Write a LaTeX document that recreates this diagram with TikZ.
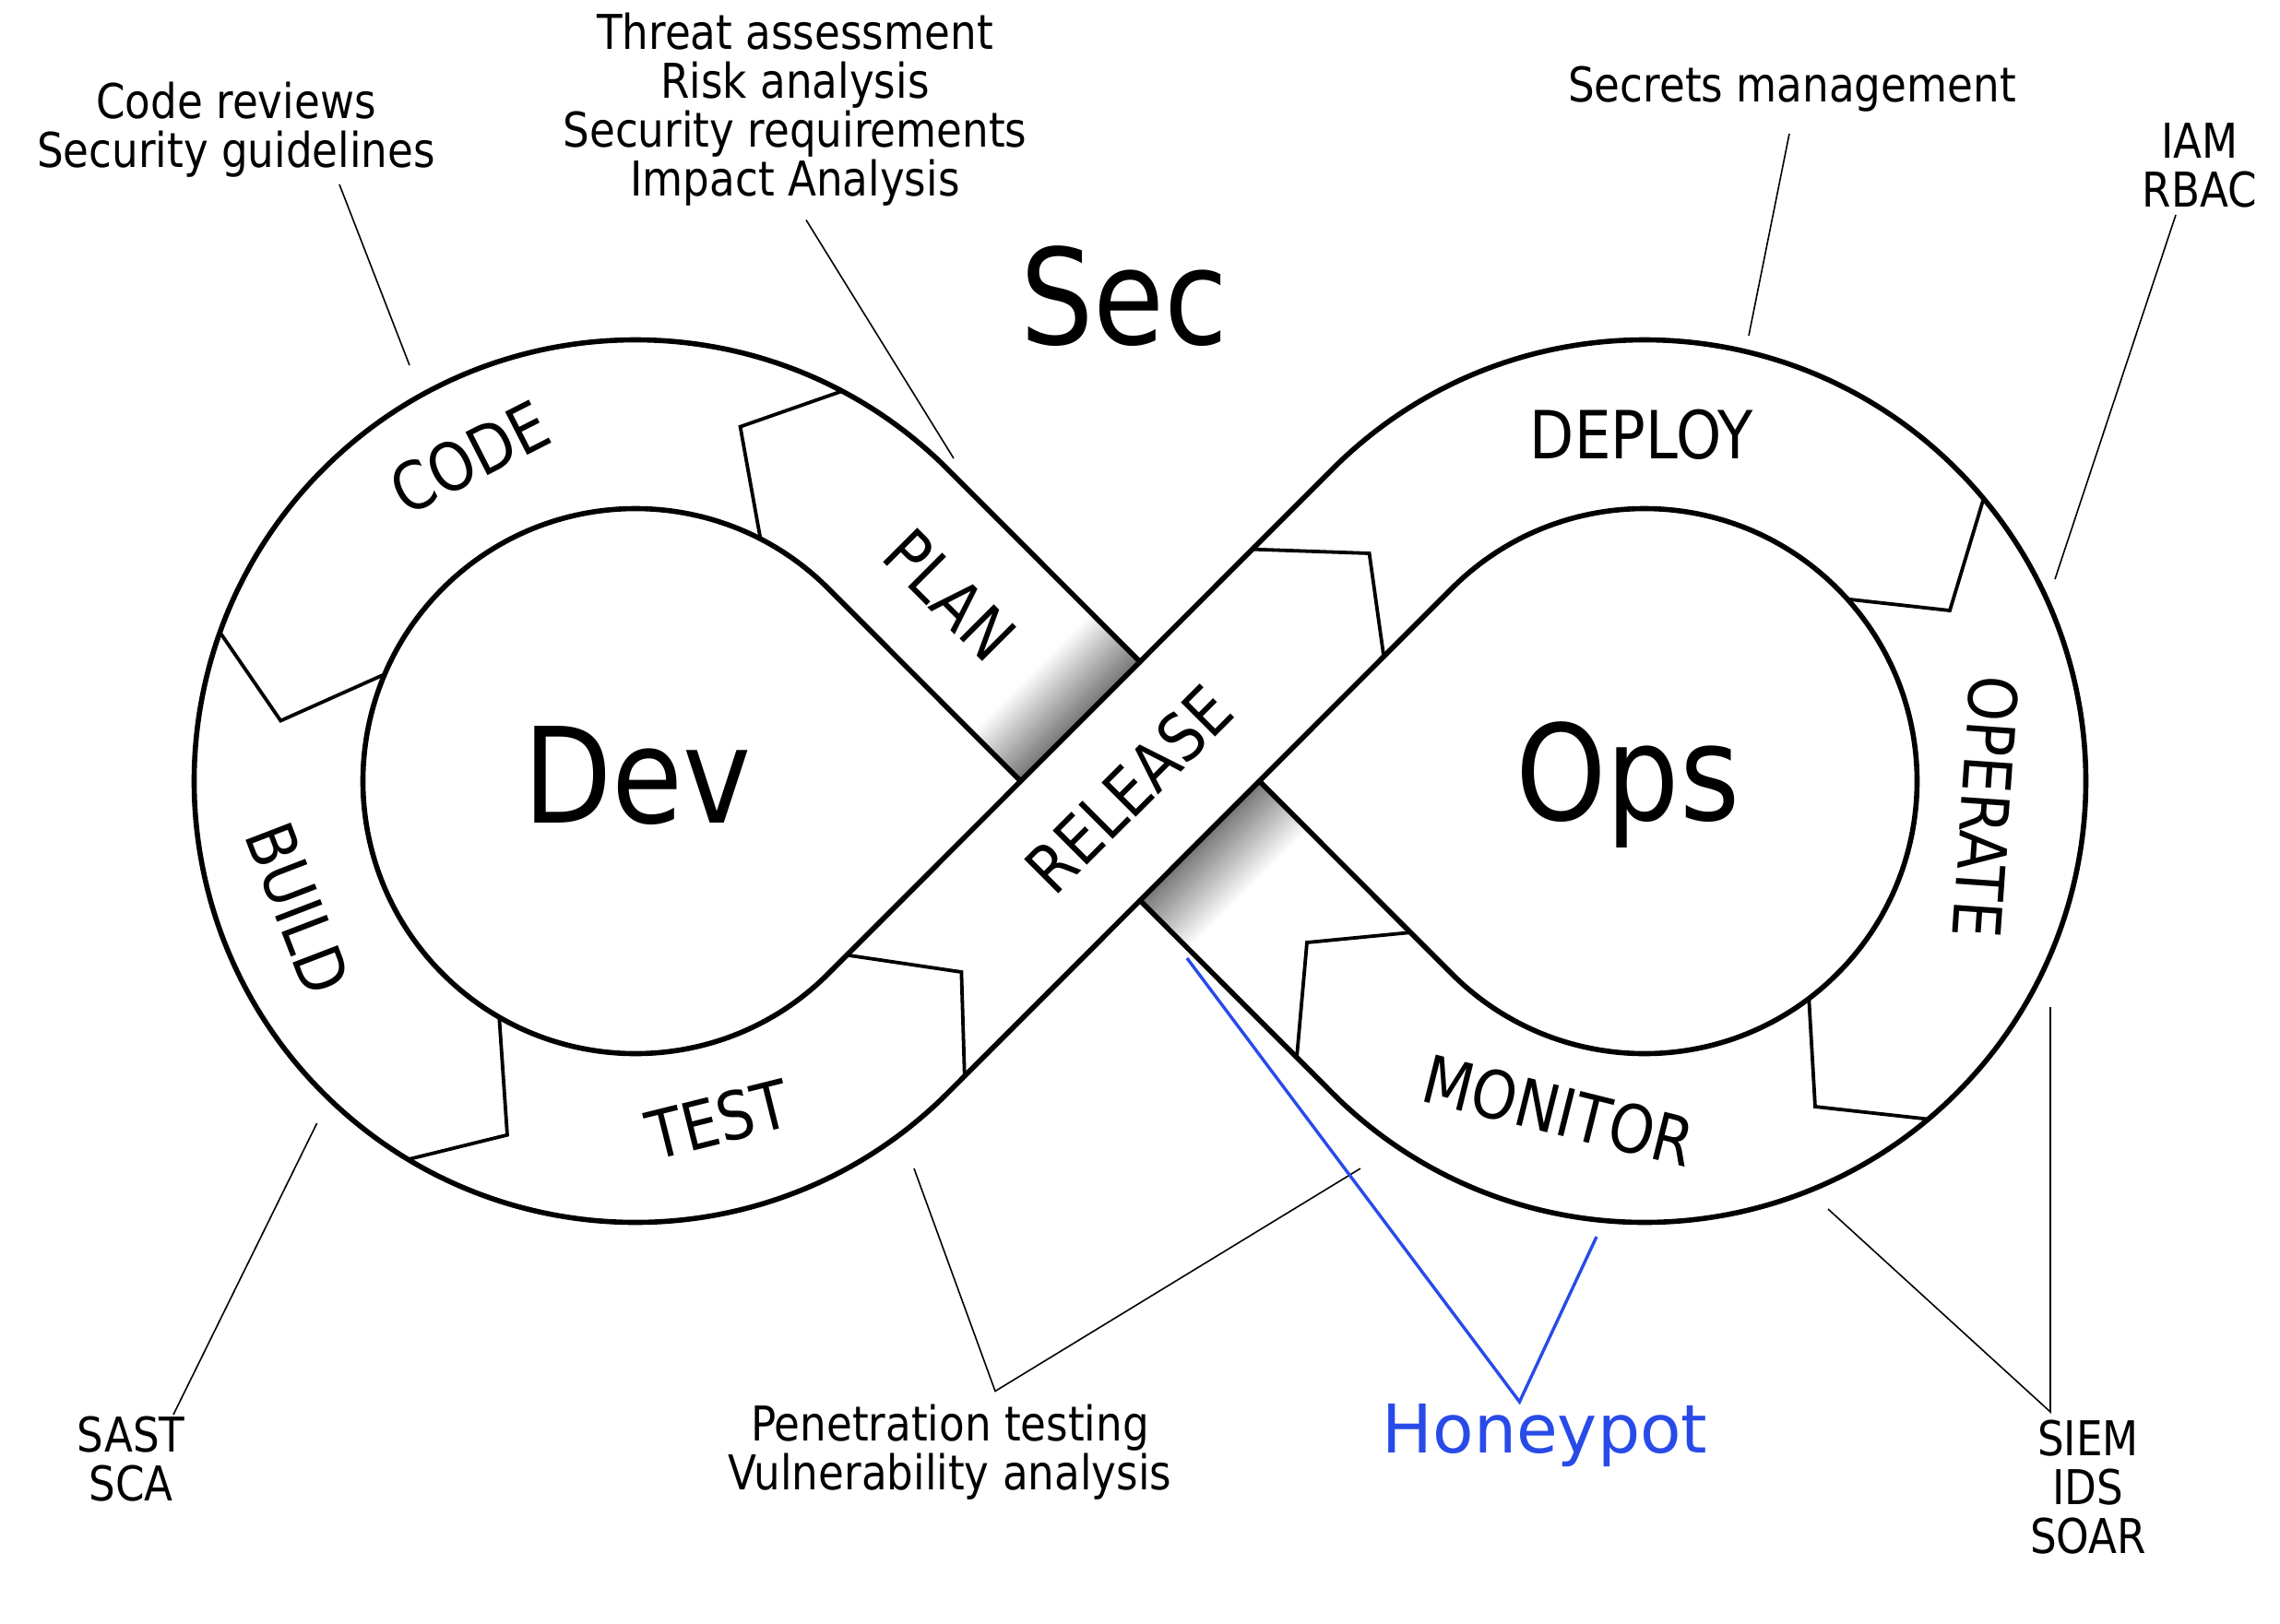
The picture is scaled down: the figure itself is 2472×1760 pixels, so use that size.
\documentclass[tikz,border=0pt]{standalone}
\usepackage{fontspec}
\setmainfont{DejaVu Sans}[FakeStretch=0.87]
\newfontfamily\honeyfont{DejaVu Sans}
\usetikzlibrary{calc}
\definecolor{honeyblue}{RGB}{40,75,232}
\tikzset{
  outline/.style={line width=1.4pt, line join=round, line cap=round},
  divider/.style={line width=0.95pt, line join=miter},
  leader/.style={line width=0.4pt},
  blueleader/.style={line width=0.85pt, draw=honeyblue, line join=miter},
  lbl/.style={font=\fontsize{13}{13.25}\selectfont, align=center, inner sep=0pt},
  seg/.style={font=\fontsize{18}{20}\selectfont, inner sep=0pt},
  big/.style={font=\fontsize{36}{40}\selectfont, inner sep=0pt},
}
\begin{document}
\begin{tikzpicture}[x=0.25pt,y=0.25pt]
\useasboundingbox (-1236,-913) rectangle (1236,847);
\fill[white] (-1236,-913) rectangle (1236,847);
\coordinate (L) at (-547,0);
\coordinate (R) at (547,0);

% gradient shadows on the under-passing band
\begin{scope}[rotate=-45]
\foreach \i in {0,...,24}{
  \pgfmathsetmacro{\c}{54*(\i+0.5)/25}
  \fill[black!\c] ({-166.5+3*\i},-91.5) rectangle ({-166.5+3*\i+3.3},91.5);
  \fill[black!\c] ({166.5-3*\i},-91.5) rectangle ({166.5-3*\i-3.3},91.5);
}
\end{scope}

% infinity outline
\draw[outline] (0,129.4) -- (-208.65,338.35)
  arc[start angle=45,end angle=315,radius=478.5]
  -- (338.05,208.95)
  arc[start angle=135,end angle=-135,radius=295.5]
  -- (129.4,0);
\draw[outline] (-129.4,0) -- (-338.05,208.95)
  arc[start angle=45,end angle=315,radius=295.5]
  -- (208.65,338.35)
  arc[start angle=135,end angle=-135,radius=478.5]
  -- (0,-129.4);

% segment dividers
\draw[divider] ($(L)+(62.1:478.5)$) -- (-433.4,384.3) -- ($(L)+(62.7:295.5)$);
\draw[divider] ($(L)+(160.3:478.5)$) -- (-931.7,65.5) -- ($(L)+(156.9:295.5)$);
\draw[divider] ($(L)+(239.0:478.5)$) -- (-686,-383.7) -- ($(L)+(240.0:295.5)$);
\draw[divider] (-318,-188.6) -- (-193.6,-207) -- (-190.2,-319.6);
\draw[divider] (122,251.4) -- (248.6,247) -- (264.3,134.9);
\draw[divider] ($(R)+(39.8:478.5)$) -- (878,185) -- ($(R)+(41.9:295.5)$);
\draw[divider] ($(R)+(-50.0:478.5)$) -- (732,-353) -- ($(R)+(-52.9:295.5)$);
\draw[divider] (293.5,-164.1) -- (181,-175) -- (170,-299.4);

% big words
\node[big, anchor=base] (sec) at (-17,474) {Sec};
\node[big, anchor=base] (dev) at (-545,-45) {Dev};
\node[big, anchor=base] (ops) at (529,-42) {Ops};

% segment labels
\node[seg, rotate=27] (code) at (-727,351) {CODE};
\node[seg, rotate=-45] (plan) at (-206,202) {PLAN};
\node[seg, rotate=45] (release) at (-12,-9) {RELEASE};
\node[seg] (deploy) at (544,376) {DEPLOY};
\node[seg, rotate=-94] (operate) at (917,-28) {OPERATE};
\node[seg, rotate=-14] (monitor) at (454,-357) {MONITOR};
\node[seg, rotate=14] (test) at (-457.5,-367) {TEST};
\node[seg, rotate=-69] (build) at (-913,-138) {BUILD};

% annotation labels
\node[lbl] (codereviews) at (-980,706.6) {Code reviews\\Security guidelines};
\node[lbl] (threat) at (-374,728) {Threat assessment\\Risk analysis\\Security requirements\\Impact Analysis};
\node[lbl] (secrets) at (707,750) {Secrets management};
\node[lbl] (iam) at (1149,668) {IAM\\RBAC};
\node[lbl] (sast) at (-1094,-735) {SAST\\SCA};
\node[lbl] (pentest) at (-206,-727.7) {Penetration testing\\Vulnerability analysis};
\node[lbl] (siem) at (1028,-765.8) {SIEM\\IDS\\SOAR};
\node[inner sep=0pt, anchor=base, text=honeyblue, font=\honeyfont\fontsize{18.2}{20}\selectfont] (honeypot) at (439,-728) {Honeypot};

% leader lines
\coordinate (cr1) at (-868,647);   \coordinate (cr2) at (-792,451);
\coordinate (th1) at (-362,608.5); \coordinate (th2) at (-202,350);
\coordinate (se1) at (704,702);    \coordinate (se2) at (660,483);
\coordinate (ia1) at (1123,614);   \coordinate (ia2) at (992,219);
\coordinate (sa1) at (-1048,-687); \coordinate (sa2) at (-892.4,-371);
\coordinate (pt1) at (-245,-420);  \coordinate (pt2) at (-157,-661.5); \coordinate (pt3) at (239,-420);
\coordinate (hp1) at (51,-192);    \coordinate (hp2) at (411.5,-673);  \coordinate (hp3) at (495,-494);
\coordinate (si1) at (746,-464);   \coordinate (si2) at (987,-684);    \coordinate (si3) at (987,-245);
\draw[leader] (cr1) -- (cr2);
\draw[leader] (th1) -- (th2);
\draw[leader] (se1) -- (se2);
\draw[leader] (ia1) -- (ia2);
\draw[leader] (sa1) -- (sa2);
\draw[leader] (pt1) -- (pt2) -- (pt3);
\draw[blueleader] (hp1) -- (hp2) -- (hp3);
\draw[leader] (si1) -- (si2) -- (si3);
\end{tikzpicture}
\end{document}
